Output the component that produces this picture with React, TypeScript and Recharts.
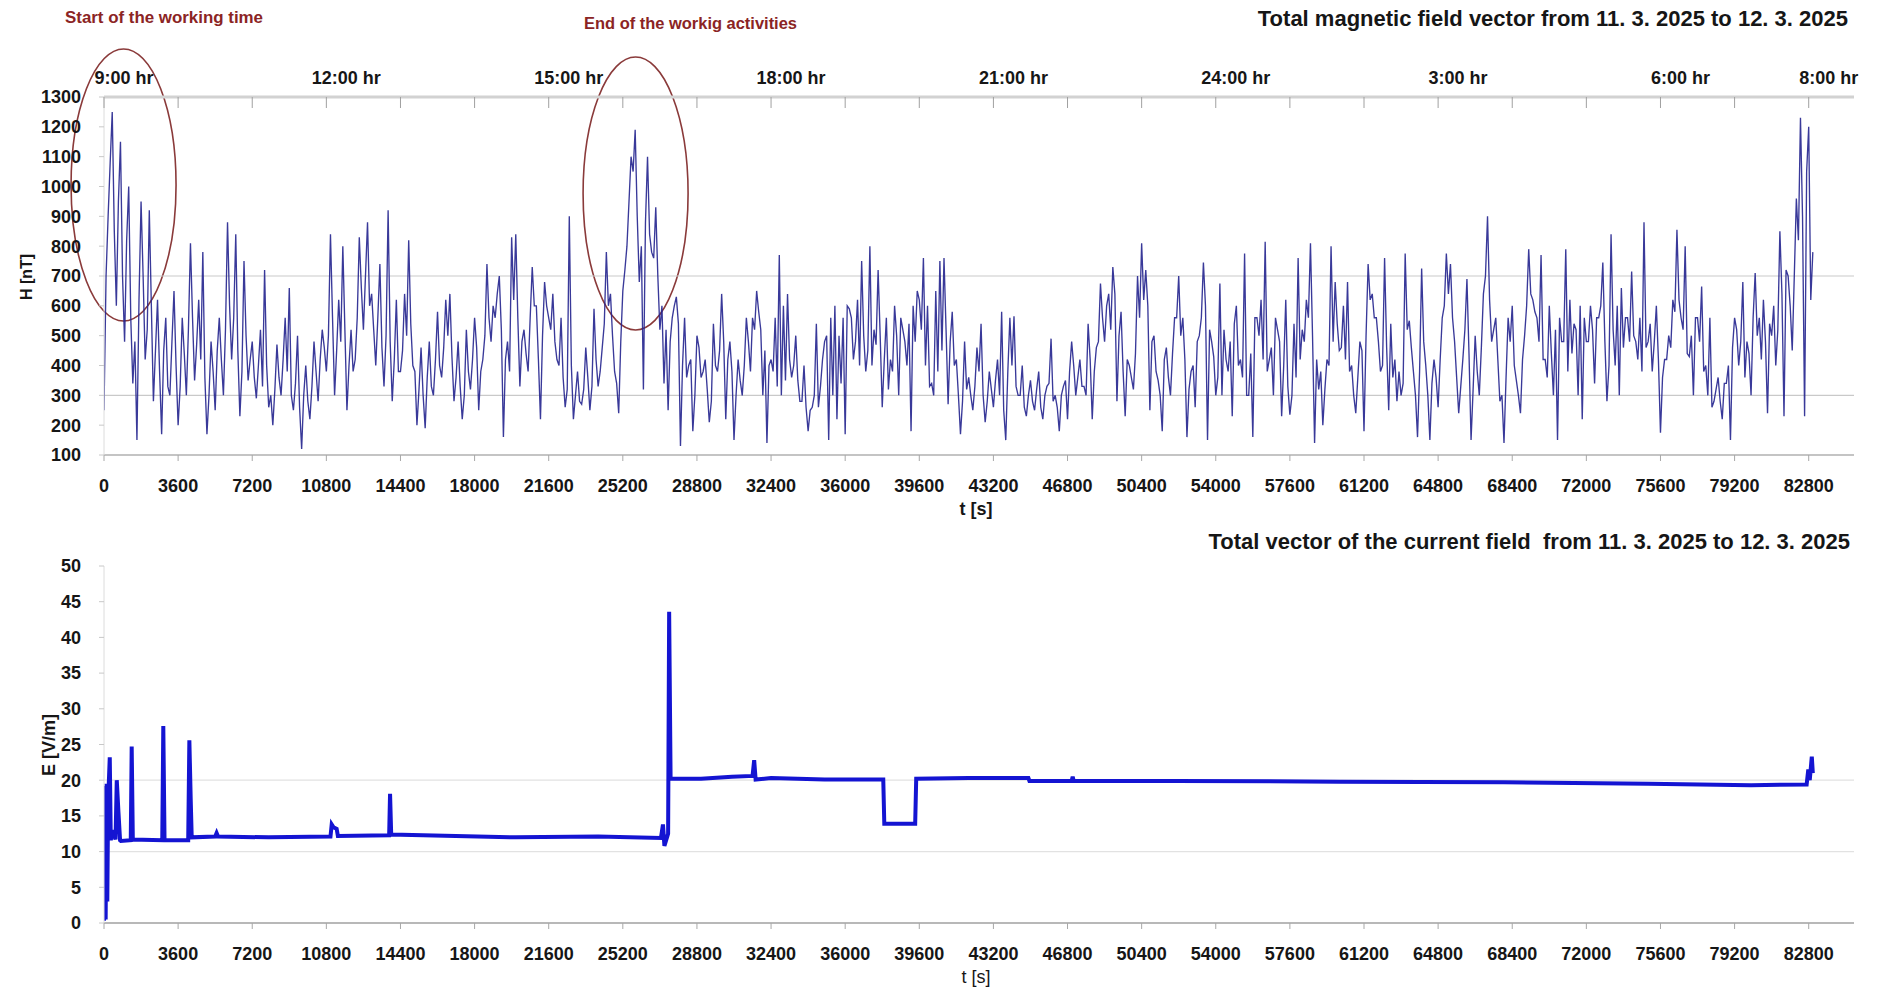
import React from 'react';
import { LineChart, Line, XAxis, YAxis, ReferenceLine, ReferenceArea } from 'recharts';

// ---------- data ----------
const H_STEP = 200; // seconds between the samples of each magnetic-field list
// samples read at t = 0, 200, 400, ...
const hValues = [
  250, 900, 1250, 600, 1150, 480, 1000, 340, 150, 950,
  420, 920, 280, 620, 170, 560, 300, 650, 200, 560,
  300, 810, 350, 620, 780, 170, 480, 250, 560, 300,
  880, 420, 840, 230, 750, 350, 480, 290, 520, 720,
  260, 200, 470, 300, 560, 660, 250, 500, 120, 400,
  220, 480, 280, 520, 380, 840, 300, 620, 800, 250,
  520, 420, 830, 520, 880, 640, 400, 740, 330, 920,
  280, 620, 380, 640, 820, 400, 200, 460, 190, 480,
  300, 580, 360, 620, 640, 280, 480, 220, 520, 320,
  560, 250, 420, 740, 480, 560, 700, 160, 480, 830,
  840, 330, 520, 380, 730, 600, 220,
  680, 560, 640, 420, 560, 260, 900, 220, 380, 270,
  460, 250, 590, 330, 460, 780, 640, 380, 240, 650,
  800, 1100, 1190, 680, 320, 1100, 780, 930, 520, 340,
  250, 560, 630, 130, 560, 400, 180, 500, 360, 420,
  210, 540, 380, 640, 220, 480, 150, 420, 300, 560,
  380, 520, 580, 300, 140, 420, 560, 770, 600, 640,
  360, 500, 280, 400, 180, 260, 540, 330, 480, 150,
  300, 220, 340, 170, 590, 420, 620, 750, 380, 800,
  520, 720, 260, 560, 420, 600, 300, 520, 400, 180,
  480, 620, 760, 600, 340, 650, 750, 760, 270, 580,
  420, 170, 480, 360,
  250, 460, 540, 210, 380, 260, 420, 580, 150, 560,
  565, 300, 400, 230, 350, 250, 380, 220, 330, 490,
  300, 180, 330, 220, 480, 300, 420, 330, 540, 220,
  460, 675, 480, 640, 730, 280, 580, 230, 400, 320,
  700, 810, 720, 250, 500, 350, 180, 460, 300, 560,
  700, 560, 160, 380, 260, 500, 745, 150, 480, 300,
  675, 520, 380, 230, 600, 420, 775, 300, 160, 560,
  620, 815, 420, 300, 520, 230, 620, 235, 540, 760,
  520, 620, 810, 140, 320, 200, 420, 800, 680, 450,
  600, 680, 400, 240, 480, 180, 740, 640, 560, 380,
  760, 250, 360, 280,
  300, 775, 550, 380, 160, 725, 400, 150, 420, 260,
  560, 775, 740, 480, 240, 420, 690, 150, 500, 300,
  640, 900, 480, 560, 280, 140, 560, 600, 350, 240,
  500, 790, 620, 560, 770, 420, 600, 300, 150, 480,
  790, 620, 540, 300, 220, 480, 600, 340, 560, 745,
  280, 840, 400, 300, 460, 560, 715, 480, 560, 880,
  480, 380, 600, 175, 420, 500, 620, 855, 560, 800,
  430, 300, 560, 665, 400, 560, 280, 360, 220, 340,
  150, 560, 400, 680, 480, 300, 710, 560, 620, 240,
  500, 400, 850, 230, 700, 450, 960, 1230, 230, 1200,
  780,
];
// in-between samples read at t = 100, 300, 500, ...
const hValuesMid = [
  700, 1080, 850, 950, 700, 820, 560, 480, 620, 700,
  520, 600, 450, 380, 450, 330, 480, 400, 330, 440,
  520, 560, 470, 420, 360, 300, 380, 450, 420, 520,
  600, 560, 450, 380, 500, 420, 360, 400, 330, 400,
  300, 320, 360, 420, 380, 300, 340, 260, 300, 280,
  330, 380, 420, 460, 500, 560, 450, 480, 520, 400,
  380, 560, 660, 700, 600, 520, 560, 460, 500, 480,
  420, 380, 450, 500, 540, 380, 320, 300, 360, 330,
  420, 400, 460, 500, 430, 360, 330, 300, 380, 420,
  460, 380, 500, 560, 600, 640, 520, 420, 380, 620,
  560, 480, 440, 560, 600, 420, 500,
  600, 520, 480, 400, 360, 320, 400, 300, 280, 320,
  360, 330, 420, 380, 540, 600, 500, 340, 480, 720,
  950, 1050, 900, 800, 880, 840, 760, 700, 600, 520,
  480, 600, 540, 400,
  360, 420, 300, 460, 380, 320, 280, 400, 450, 480,
  420, 380, 300, 350, 400, 480, 560, 650, 520, 450,
  400, 380, 330, 300, 350, 420, 400, 350, 280, 260,
  250, 300, 260, 420, 500, 560, 600, 500, 560, 600,
  560, 480, 400, 500, 450, 400, 470, 500, 420, 320,
  380, 500, 560, 480, 540, 600, 650, 520, 400, 330,
  300, 380, 450, 520, 480, 400, 300, 280, 320, 300,
  330, 380, 300, 280, 320, 350, 300, 250, 380, 400,
  330, 300, 260, 300, 280, 320, 260, 300, 340, 280,
  260, 300, 350, 380, 400, 360, 330, 300, 420, 380,
  480, 560, 600, 520, 640, 500, 380, 420, 360, 440,
  560, 620, 600, 480, 380, 300, 420, 360, 440, 560,
  500, 420, 320, 400, 480, 560, 600, 520, 430, 360,
  300, 420, 480, 540, 400, 360, 300, 440, 560, 500,
  420, 380, 460, 560, 480, 400, 330, 300, 360, 420,
  480, 560, 500, 420, 380, 320, 400, 480, 540, 460,
  420, 380, 300, 360, 450, 500, 620, 560, 480, 400,
  460, 540, 420, 380,
  340, 520, 460, 300, 380, 480, 300, 340, 360, 420,
  600, 640, 560, 360, 330, 520, 440, 320, 380, 460,
  700, 620, 520, 420, 300, 360, 480, 400, 300, 420,
  600, 640, 580, 480, 420, 360, 440, 520, 560, 480,
  380, 440, 520, 600, 560, 480, 520, 560, 600, 480,
  400, 520, 600, 660, 560, 480, 500, 420, 380, 460,
  540, 480, 420, 360, 420, 460, 580, 620, 520, 440,
  500, 560, 480, 380, 300, 260, 320, 280, 340, 400,
  460, 520, 480, 360, 440, 560, 500, 420, 480, 540,
  600, 520, 640, 720, 600, 700, 820, 900, 1050, 620,
];

const eTimes = [
  0, 40, 80, 120, 160, 200, 280, 330, 420, 560,
  620, 700, 780, 820, 1300, 1345, 1400, 2830, 2880, 2940,
  4090, 4146, 4210, 4260, 5400, 5470, 5540, 8000, 11000, 11060,
  11150, 11300, 11360, 13850, 13894, 13950, 15500, 20000, 24000, 27050,
  27150, 27220, 27400, 27450, 27520, 29000, 30500, 31500, 31580, 31650,
  32400, 35000, 37850, 37900, 39400, 39450, 42000, 44900, 44950, 47000,
  47050, 47100, 52000, 60000, 68000, 75000, 80000, 82700, 82780, 82850,
  82950, 83000,
];
const eValues = [
  0.3, 19.2, 0.5, 19.5, 3, 17, 23.2, 11.6, 13, 11.7,
  20, 15.6, 11.6, 11.5, 11.6, 24.7, 11.7, 11.6, 27.6, 11.6,
  11.6, 25.6, 17.5, 12.0, 12.1, 12.6, 12.1, 12.0, 12.1, 13.8,
  13.4, 13.2, 12.2, 12.3, 18.1, 12.4, 12.3, 12.0, 12.1, 11.9,
  13.8, 10.8, 12.5, 43.6, 20.2, 20.2, 20.5, 20.6, 22.8, 20.1,
  20.3, 20.1, 20.1, 13.9, 13.9, 20.2, 20.3, 20.3, 19.9, 19.9,
  20.5, 19.9, 19.9, 19.8, 19.7, 19.5, 19.3, 19.4, 21.5, 20,
  23.3, 21,
];

const timeTicks = [
  0, 3600, 7200, 10800, 14400, 18000, 21600, 25200, 28800, 32400, 36000, 39600,
  43200, 46800, 50400, 54000, 57600, 61200, 64800, 68400, 72000, 75600, 79200, 82800,
];
const hourTicks = [0, 10800, 21600, 32400, 43200, 54000, 64800, 75600, 82800];
const hourLabels = ['9:00 hr', '12:00 hr', '15:00 hr', '18:00 hr', '21:00 hr', '24:00 hr', '3:00 hr', '6:00 hr', '8:00 hr'];
const hTicks = [100, 200, 300, 400, 500, 600, 700, 800, 900, 1000, 1100, 1200, 1300];
const eTicks = [0, 5, 10, 15, 20, 25, 30, 35, 40, 45, 50];
const hGridValues = [300, 700];
const eGridValues = [10, 20];

// annotation ellipses, in data units (t in s, H in nT)
const startCircle = { t0: -1600, t1: 3500, h0: 549, h1: 1461 };
const endCircle = { t0: 23270, t1: 28370, h0: 519, h1: 1434 };

const T_MAX = 85000;

const hData: { t: number; h: number }[] = [];
hValues.forEach((h, i) => {
  hData.push({ t: i * H_STEP, h });
  if (i < hValuesMid.length) hData.push({ t: i * H_STEP + H_STEP / 2, h: hValuesMid[i] });
});
const eData = eTimes.map((t, i) => ({ t, e: eValues[i] }));

// ---------- styles ----------
const FONT = '"Liberation Sans", Arial, sans-serif';
const TEXT = '#161616';
const tickFont = { fontSize: 18, fontWeight: 'bold' as const, fill: TEXT, fontFamily: FONT };

const renderTopTick = (props: any) => {
  const { x, y, payload } = props;
  const idx = hourTicks.indexOf(payload.value);
  return (
    <g>
      <line x1={x} x2={x} y1={y} y2={y + 11} stroke="#a0a0a0" strokeWidth={1} />
      {idx >= 0 && (
        <text x={x + 20} y={y - 13} textAnchor="middle" fontSize={18} fontWeight="bold" fill={TEXT} fontFamily={FONT}>
          {hourLabels[idx]}
        </text>
      )}
    </g>
  );
};

const ellipseShape = (props: any) => {
  const { x, y, width, height } = props;
  return (
    <ellipse
      cx={x + width / 2}
      cy={y + height / 2}
      rx={Math.abs(width) / 2}
      ry={Math.abs(height) / 2}
      fill="none"
      stroke="#8a3a3a"
      strokeWidth={1.6}
    />
  );
};

export default function App() {
  return (
    <div style={{ position: 'absolute', left: 0, top: 0, width: 1879, height: 989, background: '#fff', fontFamily: FONT }}>
      <div style={{ position: 'absolute', left: 0, top: 0 }}>
        <LineChart width={1879} height={520} data={hData} margin={{ top: 37, right: 25, bottom: 15, left: 0 }}>
          <XAxis
            xAxisId="top"
            orientation="top"
            type="number"
            dataKey="t"
            domain={[0, T_MAX]}
            ticks={timeTicks}
            interval={0}
            height={60}
            axisLine={{ stroke: '#d2d2d2', strokeWidth: 3 }}
            tickLine={false}
            tickSize={0}
            tickMargin={0}
            tick={renderTopTick}
            allowDataOverflow
          />
          <XAxis
            xAxisId="bottom"
            orientation="bottom"
            type="number"
            dataKey="t"
            domain={[0, T_MAX]}
            ticks={timeTicks}
            interval={0}
            height={50}
            axisLine={{ stroke: '#c4c4c4', strokeWidth: 2 }}
            tickLine={{ stroke: '#a8a8a8' }}
            tickSize={6}
            tickMargin={18}
            tick={tickFont}
            allowDataOverflow
          />
          <YAxis
            type="number"
            domain={[100, 1300]}
            ticks={hTicks}
            interval={0}
            width={104}
            axisLine={{ stroke: '#dcdcdc' }}
            tickLine={{ stroke: '#c8c8c8' }}
            tickSize={5}
            tickMargin={18}
            tick={tickFont}
            allowDataOverflow
          />
          {hGridValues.map((v) => (
            <ReferenceLine key={v} xAxisId="bottom" y={v} stroke="#c9c9c9" strokeWidth={1.2} />
          ))}
          <Line
            xAxisId="bottom"
            type="linear"
            dataKey="h"
            stroke="#24248e"
            strokeWidth={1.35}
            strokeOpacity={0.9}
            dot={false}
            isAnimationActive={false}
          />
          <ReferenceArea
            xAxisId="bottom"
            x1={startCircle.t0}
            x2={startCircle.t1}
            y1={startCircle.h0}
            y2={startCircle.h1}
            ifOverflow="visible"
            shape={ellipseShape}
          />
          <ReferenceArea
            xAxisId="bottom"
            x1={endCircle.t0}
            x2={endCircle.t1}
            y1={endCircle.h0}
            y2={endCircle.h1}
            ifOverflow="visible"
            shape={ellipseShape}
          />
        </LineChart>
      </div>

      <div style={{ position: 'absolute', left: 0, top: 520 }}>
        <LineChart width={1879} height={469} data={eData} margin={{ top: 46, right: 25, bottom: 16, left: 0 }}>
          <XAxis
            type="number"
            dataKey="t"
            domain={[0, T_MAX]}
            ticks={timeTicks}
            interval={0}
            height={50}
            axisLine={{ stroke: '#b8b8b8', strokeWidth: 2 }}
            tickLine={{ stroke: '#a8a8a8' }}
            tickSize={6}
            tickMargin={18}
            tick={tickFont}
            allowDataOverflow
          />
          <YAxis
            type="number"
            domain={[0, 50]}
            ticks={eTicks}
            interval={0}
            width={104}
            axisLine={{ stroke: '#dcdcdc' }}
            tickLine={{ stroke: '#c8c8c8' }}
            tickSize={5}
            tickMargin={18}
            tick={tickFont}
            allowDataOverflow
          />
          {eGridValues.map((v) => (
            <ReferenceLine key={v} y={v} stroke="#e2e2e2" strokeWidth={1.2} />
          ))}
          <Line
            type="linear"
            dataKey="e"
            stroke="#1414d2"
            strokeWidth={4}
            dot={false}
            isAnimationActive={false}
          />
        </LineChart>
      </div>

      <svg
        width={1879}
        height={989}
        style={{ position: 'absolute', left: 0, top: 0, pointerEvents: 'none' }}
        fontFamily={FONT}
      >
        <text x={65} y={17} dominantBaseline="central" fontSize={16} fontWeight="bold" fill="#8b2424"
          textLength={198} lengthAdjust="spacingAndGlyphs">
          Start of the working time
        </text>
        <text x={584} y={23} dominantBaseline="central" fontSize={16} fontWeight="bold" fill="#8b2424"
          textLength={213} lengthAdjust="spacingAndGlyphs">
          End of the workig activities
        </text>
        <text x={1848} y={18} dominantBaseline="central" textAnchor="end" fontSize={22} fontWeight="bold" fill={TEXT}>
          Total magnetic field vector from 11. 3. 2025 to 12. 3. 2025
        </text>
        <text x={1850} y={541} dominantBaseline="central" textAnchor="end" fontSize={22} fontWeight="bold" fill={TEXT}
          style={{ whiteSpace: 'pre' }}>
          {'Total vector of the current field  from 11. 3. 2025 to 12. 3. 2025'}
        </text>
        <text x={26} y={277} dominantBaseline="central" textAnchor="middle" fontSize={16} fontWeight="bold" fill={TEXT}
          transform="rotate(-90, 26, 277)">
          H [nT]
        </text>
        <text x={49} y={745} dominantBaseline="central" textAnchor="middle" fontSize={18} fontWeight="bold" fill={TEXT}
          transform="rotate(-90, 49, 745)">
          E [V/m]
        </text>
        <text x={976} y={509} dominantBaseline="central" textAnchor="middle" fontSize={18} fontWeight="bold" fill={TEXT}>
          t [s]
        </text>
        <text x={976} y={977} dominantBaseline="central" textAnchor="middle" fontSize={18} fill={TEXT}>
          t [s]
        </text>
      </svg>
    </div>
  );
}
